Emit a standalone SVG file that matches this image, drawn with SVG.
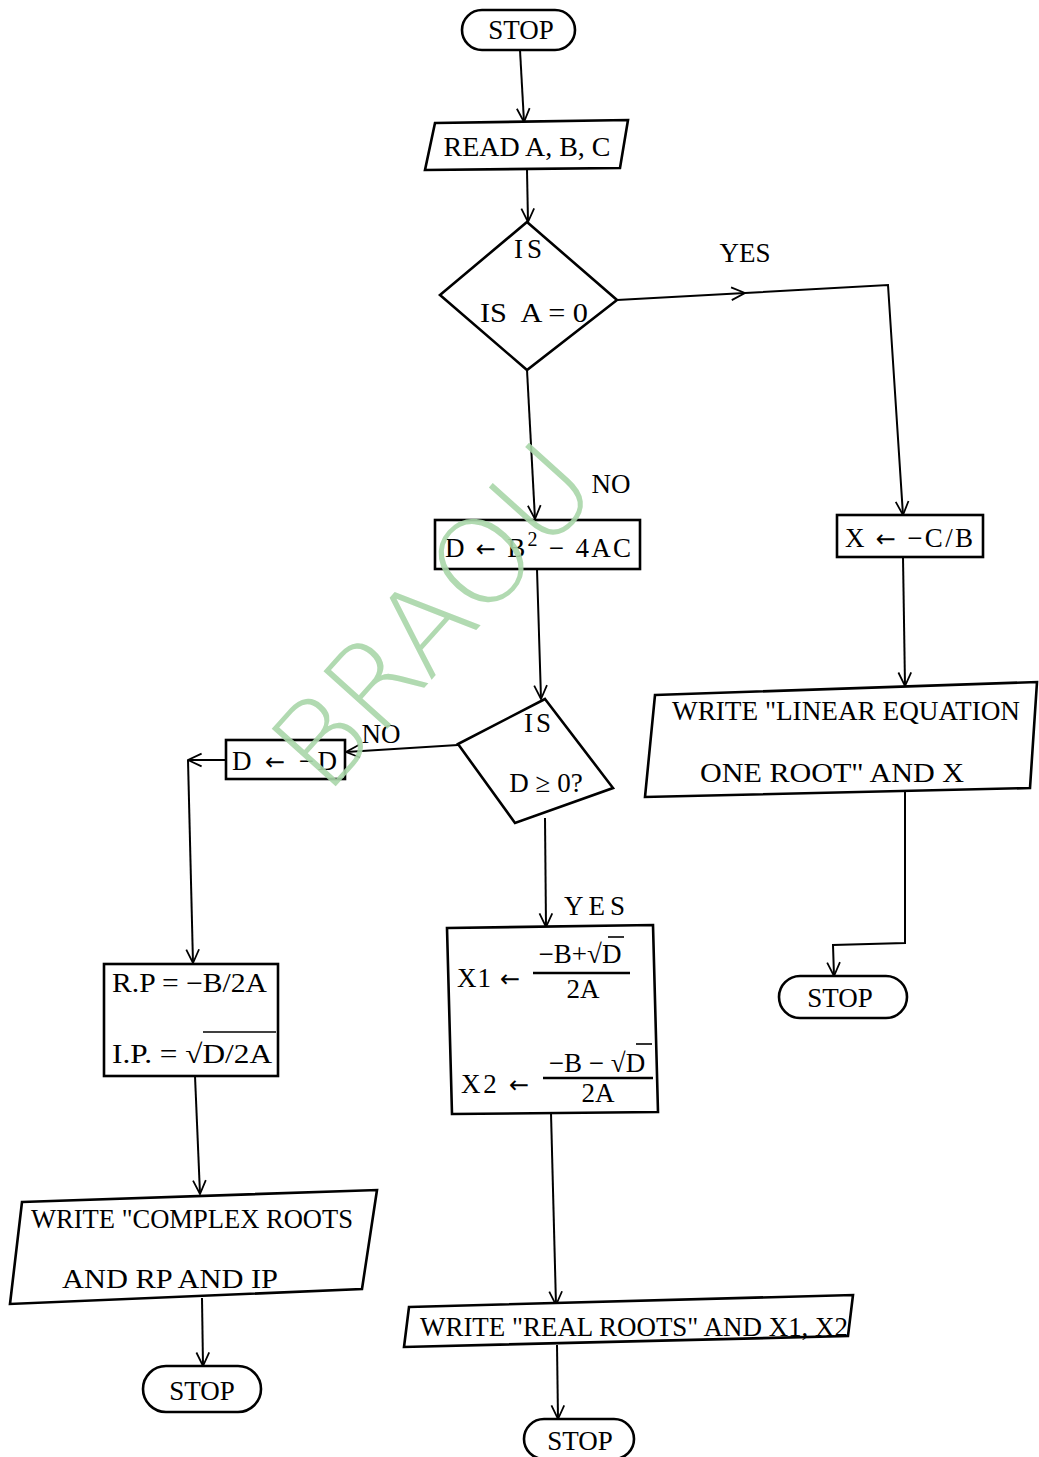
<svg xmlns="http://www.w3.org/2000/svg" width="1039" height="1457" viewBox="0 0 1039 1457">
<defs>
<marker id="arr" viewBox="0 0 20 20" refX="19" refY="10" markerWidth="16" markerHeight="16" markerUnits="userSpaceOnUse" orient="auto">
<path d="M2,2 L19,10 L2,18" fill="none" stroke="#000" stroke-width="2.2"/>
</marker>
<style>
.n{fill:#fff;stroke:#000;stroke-width:2.6}
.c{fill:none;stroke:#000;stroke-width:2}
.t{font-family:"Liberation Serif","Times New Roman",serif;font-size:27px;fill:#000}
.m{text-anchor:middle}
.a{font-family:"DejaVu Sans",sans-serif;font-size:24px}
.wm{font-family:"DejaVu Sans",sans-serif;font-weight:200;font-size:118px;fill:#a9d6a9;opacity:0.9}
</style>
</defs>
<rect width="1039" height="1457" fill="#fff"/>

<g id="connectors">
<path class="c" d="M520,50 L524,122" marker-end="url(#arr)"/>
<path class="c" d="M527,170 L528,222" marker-end="url(#arr)"/>
<path class="c" d="M617,300 L745,293" marker-end="url(#arr)"/>
<path class="c" d="M745,293 L888,285 L903,515" marker-end="url(#arr)"/>
<path class="c" d="M527,370 L535,519" marker-end="url(#arr)"/>
<path class="c" d="M537,569 L541,699" marker-end="url(#arr)"/>
<path class="c" d="M458,745 L346,752" marker-end="url(#arr)"/>
<path class="c" d="M226,760 L188,760" marker-end="url(#arr)"/>
<path class="c" d="M188,760 L193,963" marker-end="url(#arr)"/>
<path class="c" d="M545,818 L546,927" marker-end="url(#arr)"/>
<path class="c" d="M903,557 L905,686" marker-end="url(#arr)"/>
<path class="c" d="M905,790 L905,943 L833,945 L834,976" marker-end="url(#arr)"/>
<path class="c" d="M195,1076 L200,1194" marker-end="url(#arr)"/>
<path class="c" d="M202,1298 L203,1366" marker-end="url(#arr)"/>
<path class="c" d="M551,1113 L556,1305" marker-end="url(#arr)"/>
<path class="c" d="M557,1345 L558,1419" marker-end="url(#arr)"/>
</g>

<g id="stop1">
<rect class="n" x="462" y="10" width="113" height="40" rx="20"/>
<text class="t m" x="521" y="39">STOP</text>
</g>

<g id="read">
<polygon class="n" points="435,123 628,120 620,168 425,170"/>
<text class="t m" x="527" y="156" textLength="167" lengthAdjust="spacingAndGlyphs">READ A, B, C</text>
</g>

<g id="dec1">
<polygon class="n" points="527,222 617,300 527,370 440,295"/>
<text class="t m" x="530" y="258" letter-spacing="4">IS</text>
<text class="t m" x="534" y="322" textLength="108" lengthAdjust="spacingAndGlyphs" xml:space="preserve">IS  A = 0</text>
</g>

<text class="t m" x="745" y="262">YES</text>
<text class="t m" x="611" y="493">NO</text>

<g id="xbox">
<rect class="n" x="837" y="515" width="146" height="42"/>
<text class="t" x="845" y="547" textLength="128">X <tspan class="a">←</tspan> −C/B</text>
</g>

<g id="dbox">
<rect class="n" x="435" y="520" width="205" height="49"/>
<text class="t" x="445" y="557" textLength="186">D <tspan class="a">←</tspan> B<tspan font-size="20" dy="-11">2</tspan><tspan dy="11"> − 4AC</tspan></text>
</g>

<g id="dec2">
<polygon class="n" points="545,699 613,788 515,823 458,744"/>
<text class="t m" x="539" y="732" letter-spacing="3">IS</text>
<text class="t m" x="546" y="792">D ≥ 0?</text>
</g>

<text class="t m" x="381" y="743">NO</text>

<g id="negd">
<rect class="n" x="226" y="740" width="119" height="39"/>
<text class="t" x="232" y="770" textLength="105">D <tspan class="a">←</tspan> −D</text>
</g>

<text class="t m" x="597" y="915" letter-spacing="5">YES</text>

<g id="roots">
<polygon class="n" points="447,928 653,925 658,1112 452,1114"/>
<text class="t" x="457" y="987" textLength="63">X1 <tspan class="a">←</tspan></text>
<text class="t m" x="580" y="963">−B+√D</text>
<line x1="608" y1="937" x2="624" y2="937" stroke="#000" stroke-width="1.6"/>
<line x1="533" y1="973" x2="630" y2="973" stroke="#000" stroke-width="2.4"/>
<text class="t m" x="583" y="998">2A</text>
<text class="t" x="461" y="1093" textLength="68">X2 <tspan class="a">←</tspan></text>
<text class="t m" x="597" y="1072" xml:space="preserve">−B − √D</text>
<line x1="636" y1="1044" x2="652" y2="1044" stroke="#000" stroke-width="1.6"/>
<line x1="543" y1="1078" x2="653" y2="1078" stroke="#000" stroke-width="2.4"/>
<text class="t m" x="598" y="1102">2A</text>
</g>

<g id="rpip">
<rect class="n" x="104" y="964" width="174" height="112"/>
<text class="t" x="112" y="992" textLength="155" lengthAdjust="spacingAndGlyphs">R.P = −B/2A</text>
<text class="t" x="112" y="1063" textLength="160" lengthAdjust="spacingAndGlyphs">I.P. = √D/2A</text>
<line x1="203" y1="1032" x2="276" y2="1032" stroke="#000" stroke-width="1.6"/>
</g>

<g id="wlinear">
<polygon class="n" points="655,695 1037,682 1030,788 645,797"/>
<text class="t" x="672" y="720" textLength="348" lengthAdjust="spacingAndGlyphs">WRITE "LINEAR EQUATION</text>
<text class="t" x="700" y="782" textLength="264" lengthAdjust="spacingAndGlyphs">ONE ROOT"  AND X</text>
</g>

<g id="stop2">
<rect class="n" x="779" y="976" width="128" height="42" rx="21"/>
<text class="t m" x="840" y="1007">STOP</text>
</g>

<g id="wcomplex">
<polygon class="n" points="22,1202 377,1190 362,1289 10,1304"/>
<text class="t" x="31" y="1228" textLength="322" lengthAdjust="spacingAndGlyphs">WRITE "COMPLEX ROOTS</text>
<text class="t" x="62" y="1288" textLength="216" lengthAdjust="spacingAndGlyphs">AND RP AND IP</text>
</g>

<g id="stop3">
<rect class="n" x="143" y="1366" width="118" height="46" rx="23"/>
<text class="t m" x="202" y="1400">STOP</text>
</g>

<g id="wreal">
<polygon class="n" points="409,1307 853,1295 848,1336 404,1347"/>
<text class="t" x="420" y="1336" textLength="428" lengthAdjust="spacingAndGlyphs">WRITE "REAL ROOTS" AND X1, X2</text>
</g>

<g id="stop4">
<rect class="n" x="524" y="1419" width="110" height="40" rx="20"/>
<text class="t m" x="580" y="1450">STOP</text>
</g>

<text class="wm m" x="432" y="658" transform="rotate(-48 432 615)">BRAOU</text>
</svg>
